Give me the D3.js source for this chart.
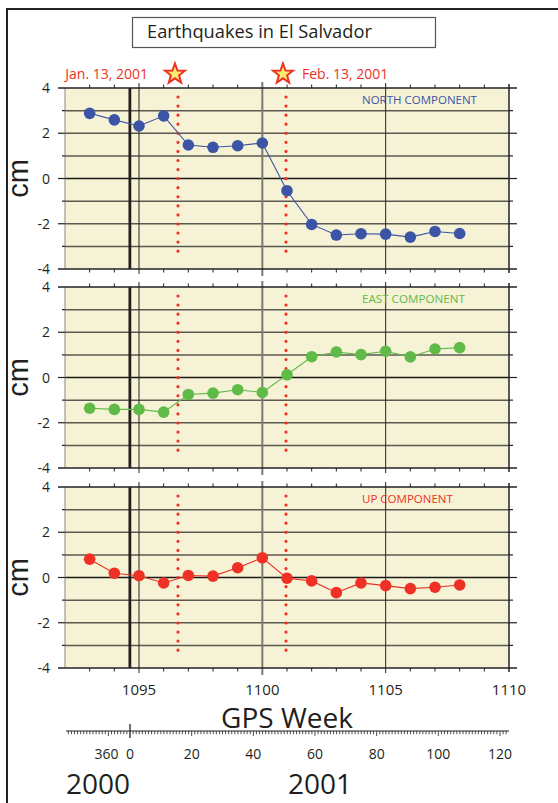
<!DOCTYPE html>
<html><head><meta charset="utf-8">
<script src="https://cdn.jsdelivr.net/npm/d3@7"></script>
<style>
html,body{margin:0;padding:0;background:#fff;}
svg text{font-family:"Open Sans","Noto Sans",sans-serif;}
</style></head>
<body><svg id="c" width="558" height="803"></svg>
<script>
// ---------------- data ----------------
const weeks = [1093,1094,1095,1096,1097,1098,1099,1100,1101,1102,1103,1104,1105,1106,1107,1108];
const north = [2.88,2.59,2.32,2.77,1.48,1.38,1.45,1.57,-0.54,-2.03,-2.50,-2.44,-2.46,-2.59,-2.34,-2.43];
const east  = [-1.36,-1.41,-1.41,-1.53,-0.75,-0.69,-0.54,-0.66,0.12,0.92,1.13,1.01,1.16,0.91,1.26,1.32];
const up    = [0.81,0.19,0.08,-0.24,0.09,0.06,0.43,0.87,-0.03,-0.15,-0.67,-0.24,-0.36,-0.49,-0.43,-0.33];
const componentNames = ["NORTH COMPONENT","EAST COMPONENT","UP COMPONENT"];
const quakeWeeks = [1096.58, 1100.96];
const quakeLabels = ["Jan. 13, 2001","Feb. 13, 2001"];
const yearBoundaryWeek = 1094.63;
const weekTicks = [1095,1100,1105,1110];
const yTicks = [4,2,0,-2,-4];
const dayTickLabels = [[-7,"360"],[0,"0"],[20,"20"],[40,"40"],[60,"60"],[80,"80"],[100,"100"],[120,"120"]];
const years = ["2000","2001"];
const title = "Earthquakes in El Salvador";

// ---------------- drawing ----------------
const svg = d3.select("#c");
const colors = ["#3b54a5","#5fba47","#ee3124"];
const labelWidths = [115,103,91];
const red = "#ee3124";
const bg = "#f6f2d5";

function fit(sel, w){
  const n = sel.node(); const fs = parseFloat(sel.attr("font-size"));
  const L = n.getComputedTextLength(); sel.attr("font-size", fs*w/L);
}

// outer frame
svg.append("path").attr("d","M7,803 V9 H558").attr("fill","none").attr("stroke","#222").attr("stroke-width",2);

// title box
svg.append("rect").attr("x",132.5).attr("y",17.5).attr("width",303).attr("height",30)
  .attr("fill","#fff").attr("stroke","#555").attr("stroke-width",1.2);
const tt = svg.append("text").attr("x",147).attr("y",38).attr("font-size",17).attr("fill","#231f20").text(title);
fit(tt,225);

const x = d3.scaleLinear().domain([1092,1110]).range([65,509]);
const tops = [88,287,487];
const H = 181;
const series = [north,east,up];

tops.forEach((top,i)=>{
  const y = d3.scaleLinear().domain([-4,4]).range([top+H, top]);
  const g = svg.append("g");
  g.append("rect").attr("x",x(1092)).attr("y",top).attr("width",x(1110)-x(1092)).attr("height",H).attr("fill",bg);
  // horizontal grid
  d3.range(-3,4).forEach(v=>{
    g.append("line").attr("x1",x(1092)).attr("x2",x(1110)).attr("y1",y(v)).attr("y2",y(v))
      .attr("stroke", v===0? "#1a1a1a":"#5a5850").attr("stroke-width", v===0?1.6:1.5);
  });
  // vertical grid
  [1095,1105].forEach(w=>{
    g.append("line").attr("x1",x(w)).attr("x2",x(w)).attr("y1",top-5).attr("y2",top+H+5).attr("stroke","#222").attr("stroke-width",1);
  });
  g.append("line").attr("x1",x(1100)).attr("x2",x(1100)).attr("y1",top-6).attr("y2",top+H+7).attr("stroke","#7a7a72").attr("stroke-width",2);
  // year boundary
  g.append("line").attr("x1",x(yearBoundaryWeek)).attr("x2",x(yearBoundaryWeek)).attr("y1",top).attr("y2",top+H).attr("stroke","#231f20").attr("stroke-width",2.8);
  // frame
  g.append("line").attr("x1",x(1092)).attr("x2",x(1092)).attr("y1",top).attr("y2",top+H).attr("stroke","#8a887c").attr("stroke-width",1);
  g.append("line").attr("x1",x(1110)).attr("x2",x(1110)).attr("y1",top-4).attr("y2",top+H+4).attr("stroke","#222").attr("stroke-width",1.5);
  g.append("line").attr("x1",x(1092)-7).attr("x2",x(1110)+8).attr("y1",top).attr("y2",top).attr("stroke","#222").attr("stroke-width",1.3);
  g.append("line").attr("x1",x(1092)-7).attr("x2",x(1110)+8).attr("y1",top+H).attr("y2",top+H).attr("stroke","#222").attr("stroke-width",1.3);
  // week ticks top/bottom
  d3.range(1093,1110).filter(w=>w%5!==0).forEach(w=>{
    g.append("line").attr("x1",x(w)).attr("x2",x(w)).attr("y1",top-3.5).attr("y2",top).attr("stroke","#222").attr("stroke-width",1);
    g.append("line").attr("x1",x(w)).attr("x2",x(w)).attr("y1",top+H).attr("y2",top+H+3.5).attr("stroke","#222").attr("stroke-width",1);
  });
  // y ticks left/right
  d3.range(-3,4).forEach(v=>{
    const major = v%2===0;
    g.append("line").attr("x1",x(1092)-(major?7:3)).attr("x2",x(1092)).attr("y1",y(v)).attr("y2",y(v)).attr("stroke","#222").attr("stroke-width",1.2);
    g.append("line").attr("x1",x(1110)).attr("x2",x(1110)+(major?8:4)).attr("y1",y(v)).attr("y2",y(v)).attr("stroke","#222").attr("stroke-width",1.2);
  });
  // y tick labels
  yTicks.forEach(v=>{
    g.append("text").attr("x",50).attr("y",y(v)).attr("dy","0.36em").attr("text-anchor","end")
      .attr("font-size",14).attr("fill","#231f20").text(v);
  });
  // cm label
  g.append("text").attr("transform",`translate(27.5,${top+H/2}) rotate(-90)`).attr("text-anchor","middle")
    .attr("font-size",29).attr("fill","#231f20").style("font-family","'Liberation Sans',Arial,sans-serif").text("cm");
  // quake dotted lines
  quakeWeeks.forEach(q=>{
    g.append("line").attr("x1",x(q)).attr("x2",x(q)).attr("y1",top+9).attr("y2",top+H-9)
      .attr("stroke",red).attr("stroke-width",3.2).attr("stroke-linecap","round").attr("stroke-dasharray","0 9.07");
  });
  // component label
  const cl = g.append("text").attr("x",362).attr("y",top+16).attr("font-size",11).attr("fill",colors[i]).text(componentNames[i]);
  fit(cl, labelWidths[i]);
  // series
  const vals = series[i];
  const pts = weeks.map((w,k)=>[w,vals[k]]);
  g.append("path").attr("d", d3.line().x(d=>x(d[0])).y(d=>y(d[1]))(pts))
    .attr("fill","none").attr("stroke",colors[i]).attr("stroke-width",1.1);
  g.selectAll("circle.pt").data(pts).join("circle").attr("class","pt")
    .attr("cx",d=>x(d[0])).attr("cy",d=>y(d[1])).attr("r",5.8).attr("fill",colors[i]);
});

// stars and quake labels
function starPath(cx,cy,R,r){
  const p=[];
  for(let k=0;k<10;k++){const a=-Math.PI/2+k*Math.PI/5; const rr=k%2?r:R; p.push([cx+rr*Math.cos(a),cy+rr*Math.sin(a)]);}
  return "M"+p.map(d=>d.join(",")).join("L")+"Z";
}
quakeWeeks.forEach((q,k)=>{
  const cx = x(q)-3;
  svg.append("path").attr("d",starPath(cx,74,10.5,4.3)).attr("fill","#f7ec6e").attr("stroke",red).attr("stroke-width",2);
  const t = svg.append("text").attr("y",79).attr("font-size",14).attr("fill",red).text(quakeLabels[k]);
  if(k===0){ t.attr("x",148).attr("text-anchor","end"); } else { t.attr("x",302); }
});

// bottom week labels
weekTicks.forEach(w=>{
  svg.append("text").attr("x",x(w)).attr("y",695).attr("text-anchor","middle").attr("font-size",15).attr("fill","#231f20").text(w);
});
svg.append("text").attr("x",287).attr("y",728).attr("text-anchor","middle").attr("font-size",28).attr("fill","#231f20").text("GPS Week");

// day ruler
const dx = d3.scaleLinear().domain([0,120]).range([130,500]);
const rl = 731;
svg.append("line").attr("x1",66).attr("x2",509).attr("y1",rl).attr("y2",rl).attr("stroke","#231f20").attr("stroke-width",1.2);
const dmin = Math.ceil(dx.invert(66)), dmax = Math.floor(dx.invert(509));
const labeled = dayTickLabels.map(d=>d[0]);
d3.range(dmin,dmax+1).forEach(d=>{
  const len = d===0?7: (labeled.includes(d)?5:3.2);
  svg.append("line").attr("x1",dx(d)).attr("x2",dx(d)).attr("y1",rl-(d===0?7:0)).attr("y2",rl+len)
    .attr("stroke","#231f20").attr("stroke-width",d===0?1.3:0.8);
});
dayTickLabels.forEach(([d,l])=>{
  svg.append("text").attr("x",dx(d)-(d<0?2:0)).attr("y",759).attr("text-anchor","middle").attr("font-size",14).attr("fill","#231f20").text(l);
});
svg.append("text").attr("x",66).attr("y",794).attr("font-size",28).attr("fill","#231f20").text(years[0]);
svg.append("text").attr("x",288).attr("y",794).attr("font-size",28).attr("fill","#231f20").text(years[1]);
</script></body></html>
